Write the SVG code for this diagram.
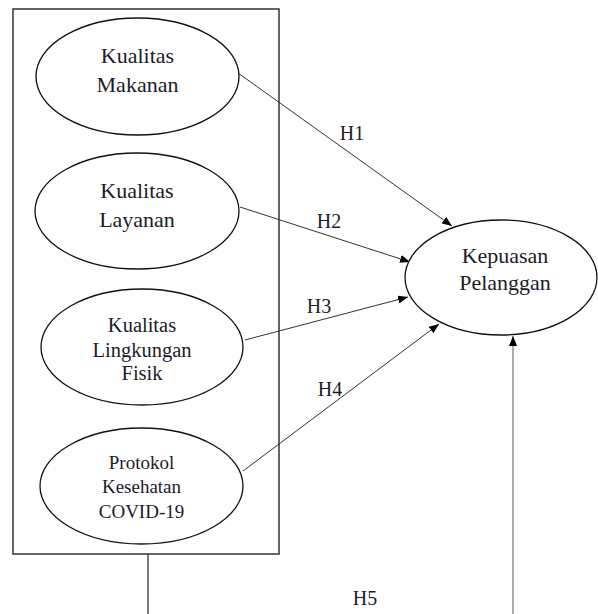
<svg xmlns="http://www.w3.org/2000/svg" width="598" height="614" viewBox="0 0 598 614">
<style>
.node ellipse{fill:#fff;stroke:#111;stroke-width:1.3}
text{font-family:"Liberation Serif","Times New Roman",serif;fill:#1c1c28;text-anchor:middle}
.t22{font-size:22px}
.t20{font-size:20.5px}
.t19{font-size:19px}
.lbl{font-size:20px}
.conn line{stroke:#333;stroke-width:1}
</style>
<defs>
<marker id="ah" markerWidth="10" markerHeight="8" refX="10" refY="4" orient="auto" markerUnits="userSpaceOnUse">
<path d="M0,0 L10,4 L0,8 z" fill="#000"/>
</marker>
</defs>
<rect id="group-box" x="13" y="9" width="266" height="545" fill="none" stroke="#333" stroke-width="1.5"/>
<g class="conn" id="connectors">
<line x1="238" y1="73" x2="452" y2="226" marker-end="url(#ah)"/>
<line x1="240" y1="207" x2="410" y2="262" marker-end="url(#ah)"/>
<line x1="245" y1="340" x2="408" y2="297" marker-end="url(#ah)"/>
<line x1="243" y1="471" x2="439" y2="324" marker-end="url(#ah)"/>
<line x1="148" y1="554" x2="148" y2="614" style="stroke:#333;stroke-width:1.3"/>
<line x1="513" y1="614" x2="513" y2="336" style="stroke:#888;stroke-width:1.4" marker-end="url(#ah)"/>
<text class="lbl" x="352" y="140">H1</text>
<text class="lbl" x="329" y="228">H2</text>
<text class="lbl" x="319" y="313">H3</text>
<text class="lbl" x="330" y="396">H4</text>
<text class="lbl" x="365" y="605">H5</text>
</g>
<g class="node" id="kualitas-makanan">
<ellipse cx="137.5" cy="76.5" rx="101.5" ry="58.5"/>
<text class="t22" x="137.5" y="63">Kualitas</text>
<text class="t22" x="137.5" y="92">Makanan</text>
</g>
<g class="node" id="kualitas-layanan">
<ellipse cx="137" cy="211" rx="102" ry="58"/>
<text class="t22" x="137" y="198">Kualitas</text>
<text class="t22" x="137" y="227">Layanan</text>
</g>
<g class="node" id="kualitas-lingkungan-fisik">
<ellipse cx="142" cy="347" rx="101" ry="58"/>
<text class="t20" x="142" y="332">Kualitas</text>
<text class="t20" x="142" y="357">Lingkungan</text>
<text class="t20" x="142" y="380">Fisik</text>
</g>
<g class="node" id="protokol-kesehatan">
<ellipse cx="141.5" cy="486" rx="101.5" ry="58"/>
<text class="t19" x="141.5" y="469">Protokol</text>
<text class="t19" x="141.5" y="493">Kesehatan</text>
<text class="t19" x="141.5" y="518">COVID-19</text>
</g>
<g class="node" id="kepuasan-pelanggan">
<ellipse cx="501" cy="277.5" rx="96" ry="57.5"/>
<text class="t22" x="505" y="263">Kepuasan</text>
<text class="t22" x="505" y="290">Pelanggan</text>
</g>
</svg>
